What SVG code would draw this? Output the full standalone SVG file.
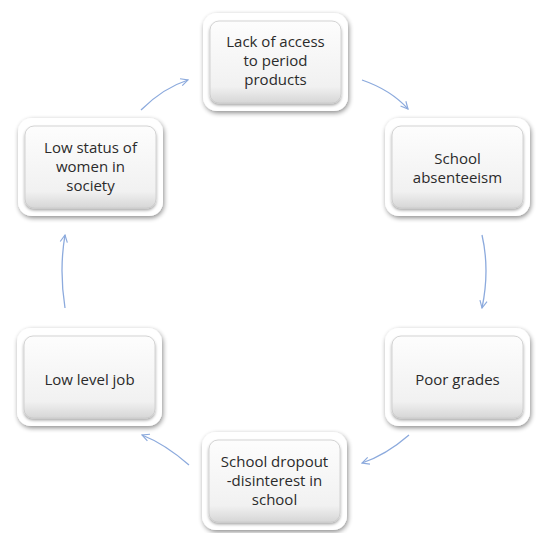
<svg xmlns="http://www.w3.org/2000/svg" width="536" height="533" viewBox="0 0 536 533">
<defs>
<style>
.outer{fill:#ffffff;filter:url(#sh);}
.inner{fill:url(#g);stroke:#c9c9c9;stroke-width:0.8;filter:url(#ish);}
.t{font-family:"Open Sans","Liberation Sans",sans-serif;font-size:15px;fill:#2b2b2b;text-anchor:middle;}
.c{fill:none;stroke:#8caadd;stroke-width:1.3;marker-end:url(#ah);}
</style>
<linearGradient id="g" x1="0" y1="0" x2="0" y2="1">
<stop offset="0" stop-color="#fdfdfd"/>
<stop offset="0.8" stop-color="#f1f1f1"/>
<stop offset="1" stop-color="#d6d6d6"/>
</linearGradient>
<filter id="sh" x="-20%" y="-20%" width="140%" height="140%">
<feGaussianBlur in="SourceAlpha" stdDeviation="2.5"/>
<feOffset dx="1" dy="2" result="b"/>
<feComponentTransfer><feFuncA type="linear" slope="0.45"/></feComponentTransfer>
<feMerge><feMergeNode/><feMergeNode in="SourceGraphic"/></feMerge>
</filter>
<filter id="ish" x="-10%" y="-10%" width="120%" height="125%">
<feGaussianBlur in="SourceAlpha" stdDeviation="1.5"/>
<feOffset dx="0" dy="2"/>
<feComponentTransfer><feFuncA type="linear" slope="0.35"/></feComponentTransfer>
<feMerge><feMergeNode/><feMergeNode in="SourceGraphic"/></feMerge>
</filter>
<marker id="ah" viewBox="0 0 10 10" refX="9" refY="5" markerWidth="9" markerHeight="9" orient="auto" markerUnits="userSpaceOnUse">
<polyline points="1,1 9,5 1,9" fill="none" stroke="#8caadd" stroke-width="1.3"/>
</marker>
</defs>
<rect width="536" height="533" fill="#ffffff"/>
<g id="connectors">
<path class="c" d="M141,110 Q163,88 188,80"/>
<path class="c" d="M362,80 Q391,90 408,109"/>
<path class="c" d="M482,235 Q490,270 482,308"/>
<path class="c" d="M409,435 Q386,455 362,463"/>
<path class="c" d="M189,465 Q165,444 142,435"/>
<path class="c" d="M65,308 Q59,270 65,235"/>
</g>
<g id="n1">
<rect class="outer" x="203" y="13" width="145" height="98" rx="14"/>
<rect class="inner" x="210" y="21" width="131" height="82" rx="9"/>
<text class="t" x="275.5" y="47">Lack of access</text>
<text class="t" x="275.5" y="66">to period</text>
<text class="t" x="275.5" y="85">products</text>
</g>
<g id="n2">
<rect class="outer" x="385" y="118" width="145" height="98" rx="14"/>
<rect class="inner" x="392" y="126" width="131" height="82" rx="9"/>
<text class="t" x="457.5" y="164">School</text>
<text class="t" x="457.5" y="183">absenteeism</text>
</g>
<g id="n3">
<rect class="outer" x="385" y="328" width="145" height="98" rx="14"/>
<rect class="inner" x="392" y="336" width="131" height="82" rx="9"/>
<text class="t" x="457.5" y="385">Poor grades</text>
</g>
<g id="n4">
<rect class="outer" x="202" y="432" width="145" height="98" rx="14"/>
<rect class="inner" x="209" y="440" width="131" height="82" rx="9"/>
<text class="t" x="274.5" y="467">School dropout</text>
<text class="t" x="274.5" y="486">-disinterest in</text>
<text class="t" x="274.5" y="505">school</text>
</g>
<g id="n5">
<rect class="outer" x="17" y="328" width="145" height="98" rx="14"/>
<rect class="inner" x="24" y="336" width="131" height="82" rx="9"/>
<text class="t" x="89.5" y="385">Low level job</text>
</g>
<g id="n6">
<rect class="outer" x="18" y="118" width="145" height="98" rx="14"/>
<rect class="inner" x="25" y="126" width="131" height="82" rx="9"/>
<text class="t" x="90.5" y="153">Low status of</text>
<text class="t" x="90.5" y="172">women in</text>
<text class="t" x="90.5" y="191">society</text>
</g>
</svg>
